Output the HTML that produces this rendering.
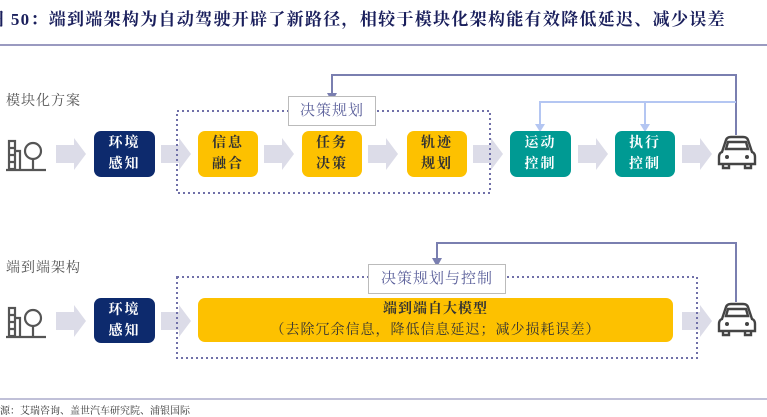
<!DOCTYPE html><html><head><meta charset="utf-8"><style>
body{margin:0;width:767px;height:415px;background:#fff;position:relative;overflow:hidden;font-family:"Liberation Serif","Noto Serif CJK SC",serif}
.t{position:absolute;white-space:nowrap}
.box{position:absolute;border-radius:7px;display:flex;align-items:center;justify-content:center;text-align:center;font-size:14px;line-height:21px;font-weight:bold;letter-spacing:2px}
.n{background:#0d2a6d;color:#fff}.y{background:#fdc100;color:#333}.g{background:#009a93;color:#fff}
</style></head><body>
<div class="t" style="left:-13px;top:5px;font-size:17px;font-weight:bold;color:#1a1f5c;letter-spacing:1.3px">图 50：端到端架构为自动驾驶开辟了新路径，相较于模块化架构能有效降低延迟、减少误差</div>
<div style="position:absolute;left:0;top:44px;width:767px;height:2px;background:#9a9ac0"></div>
<div class="t" style="left:6px;top:90px;font-size:14px;color:#555;letter-spacing:1px">模块化方案</div>
<div class="t" style="left:6px;top:257px;font-size:14px;color:#555;letter-spacing:1px">端到端架构</div>
<svg width="767" height="415" style="position:absolute;left:0;top:0">
<defs>
<g id="chev"><polygon points="0,7 18,7 18,0 30,16 18,32 18,25 0,25" fill="#dcdce8"/></g>
<g id="bld"><g fill="none" stroke="#555" stroke-width="2.2"><rect x="6" y="4" width="6" height="28"/><path d="M12 14h5v18"/><path d="M6 11h6M6 18h6M6 25h6"/><circle cx="30" cy="14" r="8"/><path d="M30 22v10"/><path d="M3 33h40"/></g></g>
<g id="car"><g fill="none" stroke="#444" stroke-width="2.4"><path d="M5 18 L9 6 Q10 3 14 3 H26 Q30 3 31 6 L35 18 Q38 19 38 23 V30 H2 V23 Q2 19 5 18Z"/><path d="M9 15 L11 8 H29 L31 15Z"/><path d="M6 30v4h6v-4M28 30v4h6v-4"/></g><circle cx="10" cy="23" r="2" fill="#444"/><circle cx="30" cy="23" r="2" fill="#444"/></g>
</defs>
<use href="#bld" x="3" y="137"/>
<use href="#chev" x="56" y="138"/><use href="#chev" x="161" y="138"/><use href="#chev" x="264" y="138"/><use href="#chev" x="368" y="138"/><use href="#chev" x="473" y="138"/><use href="#chev" x="578" y="138"/><use href="#chev" x="682" y="138"/>
<use href="#car" x="717" y="134"/>
<rect x="177" y="111" width="313" height="82" fill="none" stroke="#7070a8" stroke-width="2" stroke-dasharray="2,3"/>
<path d="M736 135V75H332V98" fill="none" stroke="#7a7fb0" stroke-width="2"/>
<polygon points="327,93 337,93 332,102" fill="#7a7fb0"/>
<path d="M736 102H540V128M645 102V128" fill="none" stroke="#b4c6f2" stroke-width="2"/>
<polygon points="535,124 545,124 540,132" fill="#b4c6f2"/><polygon points="640,124 650,124 645,132" fill="#b4c6f2"/>
<use href="#bld" x="3" y="304"/>
<use href="#chev" x="56" y="305"/><use href="#chev" x="161" y="305"/><use href="#chev" x="682" y="305"/>
<use href="#car" x="717" y="301"/>
<rect x="177" y="277" width="520" height="81" fill="none" stroke="#7070a8" stroke-width="2" stroke-dasharray="2,3"/>
<path d="M736 302V243H437V262" fill="none" stroke="#7a7fb0" stroke-width="2"/>
<polygon points="432,258 442,258 437,267" fill="#7a7fb0"/>
</svg>
<div class="t" style="left:288px;top:96px;width:86px;height:28px;border:1px solid #bbb;background:#fff;font-size:15px;color:#5a5f9a;text-align:center;line-height:28px;letter-spacing:1px">决策规划</div>
<div class="t" style="left:368px;top:264px;width:136px;height:28px;border:1px solid #bbb;background:#fff;font-size:15px;color:#5a5f9a;text-align:center;line-height:28px;letter-spacing:1px">决策规划与控制</div>
<div class="box n" style="left:94px;top:131px;width:61px;height:46px">环境<br>感知</div>
<div class="box y" style="left:198px;top:131px;width:60px;height:46px">信息<br>融合</div>
<div class="box y" style="left:302px;top:131px;width:60px;height:46px">任务<br>决策</div>
<div class="box y" style="left:407px;top:131px;width:60px;height:46px">轨迹<br>规划</div>
<div class="box g" style="left:510px;top:131px;width:61px;height:46px">运动<br>控制</div>
<div class="box g" style="left:615px;top:131px;width:60px;height:46px">执行<br>控制</div>
<div class="box n" style="left:94px;top:298px;width:61px;height:45px">环境<br>感知</div>
<div class="box y" style="left:198px;top:298px;width:475px;height:44px;font-weight:normal;line-height:21px;letter-spacing:1px"><span><b>端到端自大模型</b><br>（去除冗余信息，降低信息延迟；减少损耗误差）</span></div>
<div style="position:absolute;left:0;top:398px;width:767px;height:2px;background:#c0c0d8"></div>
<div class="t" style="left:0;top:402px;font-size:10px;color:#333">源：艾瑞咨询、盖世汽车研究院、浦银国际</div>
</body></html>
